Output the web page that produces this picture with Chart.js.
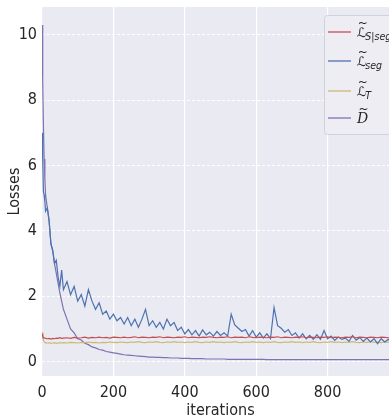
<!DOCTYPE html>
<html>
<head>
<meta charset="utf-8">
<script src="https://cdn.jsdelivr.net/npm/chart.js@4/dist/chart.umd.min.js"></script>
<style>
    html, body { margin: 0; padding: 0; background: #ffffff; }
    #wrap { width: 389px; height: 419px; overflow: hidden; position: relative; }
    #chart { position: absolute; left: 0; top: 0; }
</style>
</head>
<body>
<div id="wrap"><canvas id="chart" width="399" height="430"></canvas></div>
<script>
const iterations = [0, 2, 4, 6, 8, 10, 15, 20, 25, 30, 35, 40, 45, 50, 55, 60,
    70, 80, 90, 100, 110, 120, 130, 140, 150, 160, 170, 180, 190, 200,
    210, 220, 230, 240, 250, 260, 270, 280, 290, 300, 310, 320, 330, 340, 350,
    360, 370, 380, 390, 400, 410, 420, 430, 440, 450, 460, 470, 480, 490, 500,
    510, 520, 530, 540, 550, 560, 570, 580, 590, 600, 610, 620, 630, 640, 650,
    660, 670, 680, 690, 700, 710, 720, 730, 740, 750, 760, 770, 780, 790, 800,
    810, 820, 830, 840, 850, 860, 870, 880, 890, 900, 910, 920, 930, 940, 950,
    960, 970, 980, 990, 1000];

// L~ S|seg
const lossSSeg = [0.85, 0.78, 0.74, 0.73, 0.72, 0.71, 0.70, 0.71, 0.69, 0.71, 0.70, 0.72, 0.71, 0.73, 0.71, 0.72,
    0.73, 0.71, 0.74, 0.72, 0.73, 0.75, 0.72, 0.74, 0.73, 0.75, 0.73, 0.74, 0.72, 0.75,
    0.74, 0.73, 0.75, 0.73, 0.74, 0.76, 0.73, 0.75, 0.74, 0.73, 0.75, 0.74, 0.76, 0.73, 0.75,
    0.74, 0.73, 0.75, 0.74, 0.76, 0.73, 0.75, 0.74, 0.73, 0.75, 0.74, 0.76, 0.74, 0.73, 0.75,
    0.74, 0.76, 0.73, 0.75, 0.74, 0.75, 0.73, 0.76, 0.74, 0.73, 0.75, 0.74, 0.73, 0.75, 0.74,
    0.76, 0.73, 0.75, 0.74, 0.73, 0.75, 0.74, 0.76, 0.73, 0.75, 0.74, 0.73, 0.75, 0.74, 0.76,
    0.73, 0.75, 0.74, 0.73, 0.75, 0.74, 0.76, 0.73, 0.75, 0.74, 0.73, 0.75, 0.74, 0.73, 0.75,
    0.74, 0.73, 0.75, 0.74, 0.73];

// L~ seg
const lossSeg = [7.0, 6.2, 5.2, 5.1, 4.9, 4.6, 4.7, 4.3, 3.6, 3.4, 3.0, 3.1, 2.6, 2.3, 2.8, 2.2,
    2.45, 2.05, 2.3, 1.85, 2.05, 1.7, 2.2, 1.85, 1.6, 1.8, 1.45, 1.55, 1.3, 1.45,
    1.25, 1.35, 1.15, 1.35, 1.1, 1.3, 1.05, 1.3, 1.6, 1.1, 1.25, 1.05, 1.2, 1.0, 1.3,
    1.1, 1.2, 0.95, 1.05, 0.85, 0.98, 0.82, 0.95, 0.78, 0.97, 0.82, 0.9, 0.78, 0.92, 0.8,
    0.88, 0.78, 1.45, 1.12, 1.02, 0.92, 0.98, 0.78, 0.95, 0.75, 0.88, 0.72, 0.85, 0.7, 1.65,
    1.1, 1.02, 0.9, 0.98, 0.8, 0.88, 0.72, 0.85, 0.7, 0.8, 0.68, 0.82, 0.68, 0.95, 0.7,
    0.78, 0.65, 0.75, 0.68, 0.72, 0.62, 0.8, 0.66, 0.74, 0.62, 0.72, 0.6, 0.7, 0.55, 0.7,
    0.6, 0.68, 0.58, 0.66, 0.6];

// L~ T
const lossT = [0.90, 0.75, 0.65, 0.61, 0.59, 0.58, 0.57, 0.58, 0.56, 0.57, 0.58, 0.56, 0.57, 0.58, 0.57, 0.58,
    0.57, 0.59, 0.58, 0.57, 0.59, 0.58, 0.60, 0.58, 0.59, 0.57, 0.59, 0.58, 0.60, 0.59,
    0.58, 0.60, 0.59, 0.58, 0.60, 0.59, 0.61, 0.59, 0.58, 0.60, 0.59, 0.61, 0.59, 0.58, 0.60,
    0.59, 0.61, 0.59, 0.60, 0.58, 0.60, 0.59, 0.61, 0.59, 0.58, 0.60, 0.59, 0.61, 0.59, 0.60,
    0.58, 0.60, 0.59, 0.61, 0.59, 0.58, 0.60, 0.59, 0.61, 0.59, 0.60, 0.58, 0.60, 0.59, 0.61,
    0.59, 0.58, 0.60, 0.59, 0.61, 0.59, 0.60, 0.58, 0.60, 0.59, 0.61, 0.59, 0.58, 0.60, 0.59,
    0.61, 0.59, 0.60, 0.58, 0.60, 0.59, 0.61, 0.59, 0.58, 0.60, 0.59, 0.61, 0.59, 0.60, 0.58,
    0.60, 0.59, 0.61, 0.59, 0.60];

// D~
const lossD = [10.3, 8.6, 7.2, 6.2, 5.6, 5.1, 4.7, 4.3, 3.6, 3.4, 3.0, 2.7, 2.4, 2.1, 1.85, 1.6,
    1.3, 1.0, 0.88, 0.7, 0.66, 0.56, 0.52, 0.45, 0.42, 0.37, 0.35, 0.31, 0.29, 0.27,
    0.25, 0.23, 0.21, 0.2, 0.19, 0.18, 0.17, 0.16, 0.15, 0.14, 0.14, 0.13, 0.13, 0.12, 0.12,
    0.11, 0.11, 0.11, 0.1, 0.1, 0.1, 0.09, 0.09, 0.09, 0.09, 0.08, 0.08, 0.08, 0.08, 0.08,
    0.08, 0.07, 0.07, 0.07, 0.07, 0.07, 0.07, 0.07, 0.07, 0.07, 0.07, 0.07, 0.06, 0.06, 0.06,
    0.06, 0.06, 0.06, 0.06, 0.06, 0.06, 0.06, 0.06, 0.06, 0.06, 0.06, 0.06, 0.06, 0.06, 0.06,
    0.06, 0.06, 0.06, 0.06, 0.06, 0.06, 0.06, 0.06, 0.06, 0.06, 0.06, 0.06, 0.06, 0.06, 0.06,
    0.06, 0.06, 0.06, 0.06, 0.06];

const xTicks = [0, 200, 400, 600, 800];
const yTicks = [0, 2, 4, 6, 8, 10];

const colors = ['#c44e52', '#4c72b0', '#ccb974', '#8172b2'];
const legendLabels = [
    { main: '\u2112', sub: 'S|seg' },
    { main: '\u2112', sub: 'seg' },
    { main: '\u2112', sub: 'T' },
    { main: 'D', sub: '' }
];

const FONT = "'Liberation Sans Narrow', 'DejaVu Sans Condensed', sans-serif";

function toPoints(values) {
    return iterations.map((it, i) => ({ x: it, y: values[i] }));
}

// grey plot background like seaborn darkgrid
const plotBackground = {
    id: 'plotBackground',
    beforeDraw(chart) {
        const { ctx, chartArea: a } = chart;
        ctx.save();
        ctx.fillStyle = '#eaeaf2';
        ctx.fillRect(a.left, a.top, a.right - a.left, a.bottom - a.top);
        ctx.restore();
    }
};

// legend with tilde + subscript labels
const mathLegend = {
    id: 'mathLegend',
    afterDraw(chart) {
        const ctx = chart.ctx;
        const boxX = 324.5, boxY = 15.5, boxW = 90, boxH = 119;
        const rows = [32, 61, 91, 118];
        ctx.save();
        ctx.beginPath();
        ctx.roundRect(boxX, boxY, boxW, boxH, 3);
        ctx.fillStyle = '#ededf3';
        ctx.fill();
        ctx.strokeStyle = '#d2d2da';
        ctx.lineWidth = 1;
        ctx.stroke();

        legendLabels.forEach((lab, i) => {
            const y = rows[i];
            ctx.strokeStyle = colors[i];
            ctx.lineWidth = 1.3;
            ctx.beginPath();
            ctx.moveTo(328, y);
            ctx.lineTo(351, y);
            ctx.stroke();

            ctx.fillStyle = '#262626';
            ctx.textBaseline = 'alphabetic';
            ctx.textAlign = 'left';
            const x0 = 357;
            ctx.font = lab.main === 'D' ? "italic 14px 'DejaVu Serif'" : "13px 'DejaVu Sans'";
            ctx.fillText(lab.main, x0, y + 5);
            const w = ctx.measureText(lab.main).width;
            ctx.font = "12px 'DejaVu Sans'";
            ctx.textAlign = 'center';
            ctx.fillText('~', x0 + w / 2 + 1, y - 5);
            if (lab.sub) {
                ctx.textAlign = 'left';
                ctx.font = "italic 10.5px " + FONT;
                ctx.fillText(lab.sub, x0 + w - 1, y + 8);
            }
        });
        ctx.restore();
    }
};

const ctx = document.getElementById('chart');
new Chart(ctx, {
    type: 'line',
    data: {
        datasets: [lossSSeg, lossSeg, lossT, lossD].map((vals, i) => ({
            data: toPoints(vals),
            borderColor: colors[i],
            borderWidth: 1.2,
            pointRadius: 0,
            tension: 0,
            fill: false
        }))
    },
    options: {
        responsive: false,
        animation: false,
        layout: { padding: { top: 7, left: 0, right: 0, bottom: 0 } },
        plugins: {
            legend: { display: false },
            tooltip: { enabled: false }
        },
        scales: {
            x: {
                type: 'linear',
                min: 0,
                max: 1000,
                afterFit: s => { s.height = 54; s.paddingLeft = 0; s.paddingRight = 0; },
                afterBuildTicks: s => { s.ticks = xTicks.map(v => ({ value: v })); },
                grid: { color: '#ffffff', lineWidth: 1.2, drawTicks: false },
                border: { display: false },
                ticks: { color: '#262626', padding: 7, maxRotation: 0, font: { family: FONT, size: 16 } },
                title: {
                    display: true,
                    text: 'iterations',
                    color: '#262626',
                    padding: { top: 0, bottom: 10 },
                    font: { family: FONT, size: 16 }
                }
            },
            y: {
                min: -0.44,
                max: 10.85,
                afterFit: s => { s.width = 42; s.paddingTop = 0; s.paddingBottom = 0; },
                afterBuildTicks: s => { s.ticks = yTicks.map(v => ({ value: v })); },
                grid: { color: '#ffffff', lineWidth: 1, drawTicks: false },
                border: { display: false, dash: [3, 2] },
                ticks: { color: '#262626', padding: 5, font: { family: FONT, size: 16 } },
                title: {
                    display: true,
                    text: 'Losses',
                    color: '#262626',
                    padding: { top: 5, bottom: 0 },
                    font: { family: FONT, size: 16 }
                }
            }
        }
    },
    plugins: [plotBackground, mathLegend]
});
</script>
</body>
</html>
